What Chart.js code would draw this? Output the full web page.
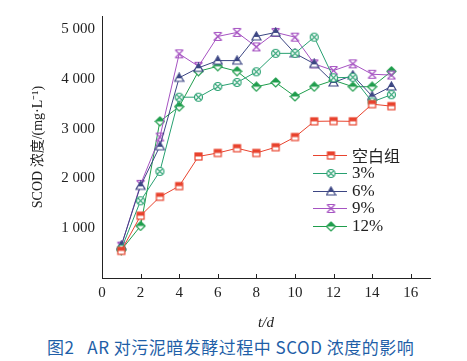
<!DOCTYPE html>
<html>
<head>
<meta charset="utf-8">
<script src="https://cdn.jsdelivr.net/npm/chart.js@4.4.0/dist/chart.umd.min.js"></script>
<style>
  body { margin: 0; background: #fff; }
  #wrap { position: relative; width: 467px; height: 336px; }
  #cap { height: 25px; font-family: "Noto Sans CJK SC", sans-serif; font-size: 17px; letter-spacing: 0.5px; color: #1f5fa8; padding-left: 47px; line-height: 22px; white-space: pre; }
</style>
</head>
<body>
<div id="wrap"><canvas id="my-chart" width="467" height="336"></canvas></div>
<div id="cap">图2   AR 对污泥暗发酵过程中 SCOD 浓度的影响</div>
<script>
// data
let days = [1, 2, 3, 4, 5, 6, 7, 8, 9, 10, 11, 12, 13, 14, 15];
let blank = [545, 1250, 1630, 1845, 2440, 2510, 2605, 2510, 2625, 2830, 3145, 3150, 3145, 3490, 3450];
let p3 = [580, 1550, 2140, 3630, 3630, 3845, 3925, 4140, 4510, 4510, 4835, 4020, 4030, 3535, 3680];
let p6 = [650, 1850, 2645, 4020, 4220, 4365, 4365, 4850, 4930, 4510, 4300, 3925, 4070, 3650, 3845];
let p9 = [640, 1880, 2830, 4500, 4250, 4850, 4930, 4640, 4930, 4835, 4300, 4165, 4300, 4090, 4075];
let p12 = [560, 1045, 3145, 3440, 4150, 4250, 4150, 3840, 3925, 3645, 3840, 3970, 3840, 3840, 4150];
let names = ['空白组', '3%', '6%', '9%', '12%'];
let xTicks = [0, 2, 4, 6, 8, 10, 12, 14, 16];
let yTicks = [1000, 2000, 3000, 4000, 5000];

const colors = ['#e8432e', '#27a070', '#3c4683', '#a653c2', '#1f9d4c'];
const kinds = ['sq', 'cx', 'tri', 'xx', 'dia'];
const serif = '"Liberation Serif", "Times New Roman", serif';

function marker(kind, color) {
    const c = document.createElement('canvas');
    c.width = 11; c.height = 11;
    const g = c.getContext('2d');
    g.strokeStyle = color;
    g.fillStyle = color;
    g.lineWidth = 1.2;
    const m = 5.5;
    if (kind == 'sq') {
        g.fillStyle = '#fff';
        g.fillRect(m - 3.5, m - 3.5, 7, 7);
        g.fillStyle = color;
        g.fillRect(m - 3.5, m - 3.5, 7, 3.5);
        g.strokeRect(m - 3.5, m - 3.5, 7, 7);
    } else if (kind == 'cx') {
        g.fillStyle = '#fff';
        g.beginPath(); g.arc(m, m, 4, 0, Math.PI * 2); g.fill(); g.stroke();
        g.beginPath();
        g.moveTo(m - 2.6, m - 2.6); g.lineTo(m + 2.6, m + 2.6);
        g.moveTo(m + 2.6, m - 2.6); g.lineTo(m - 2.6, m + 2.6);
        g.stroke();
    } else if (kind == 'tri') {
        g.fillStyle = '#fff';
        g.beginPath(); g.moveTo(m, m - 4.5); g.lineTo(m + 4.5, m + 3.5); g.lineTo(m - 4.5, m + 3.5); g.closePath();
        g.fill(); g.stroke();
        g.fillStyle = color;
        g.beginPath(); g.moveTo(m, m - 4.5); g.lineTo(m + 2.8, m + 0.5); g.lineTo(m - 2.8, m + 0.5); g.closePath();
        g.fill();
    } else if (kind == 'xx') {
        g.beginPath();
        g.moveTo(m - 4, m - 4); g.lineTo(m + 4, m - 4);
        g.moveTo(m - 4, m + 4); g.lineTo(m + 4, m + 4);
        g.moveTo(m - 4, m - 4); g.lineTo(m + 4, m + 4);
        g.moveTo(m + 4, m - 4); g.lineTo(m - 4, m + 4);
        g.stroke();
    } else {
        g.fillStyle = '#fff';
        g.beginPath(); g.moveTo(m, m - 4.5); g.lineTo(m + 4.5, m); g.lineTo(m, m + 4.5); g.lineTo(m - 4.5, m); g.closePath();
        g.fill(); g.stroke();
        g.fillStyle = color;
        g.beginPath(); g.moveTo(m, m - 4.5); g.lineTo(m + 4.5, m); g.lineTo(m - 4.5, m); g.closePath();
        g.fill();
    }
    return c;
}

const series = [blank, p3, p6, p9, p12];
const markers = kinds.map((k, i) => marker(k, colors[i]));

const datasets = series.map((s, i) => ({
    label: names[i],
    data: s.map((v, j) => ({ x: days[j], y: v })),
    borderColor: colors[i],
    borderWidth: 1,
    pointStyle: markers[i],
    pointRadius: 5,
    tension: 0
}));

function fmt(v) {
    return Math.floor(v / 1000) + ' 000';
}

// legend drawn inside the plot + inward ticks on x axis
const extras = {
    id: 'extras',
    afterDraw(chart) {
        const c = chart.ctx;
        const xs = chart.scales.x;
        const ys = chart.scales.y;
        c.save();
        c.strokeStyle = '#222';
        c.lineWidth = 1;
        xTicks.forEach(t => {
            if (t == 0) return;
            const px = Math.round(xs.getPixelForValue(t)) + 0.5;
            c.beginPath(); c.moveTo(px, ys.bottom); c.lineTo(px, ys.bottom - 4); c.stroke();
        });
        const ly = [155, 173, 191, 208, 226];
        names.forEach((n, i) => {
            c.strokeStyle = colors[i];
            c.beginPath(); c.moveTo(313, ly[i] + 0.5); c.lineTo(347, ly[i] + 0.5); c.stroke();
            c.drawImage(markers[i], 331 - 5.5, ly[i] - 5);
            c.fillStyle = '#222';
            c.font = i == 0 ? '16px "Noto Sans CJK SC"' : '17px ' + serif;
            c.textBaseline = 'middle';
            c.fillText(n, 352, ly[i] + 1);
        });
        c.restore();
    }
};

function draw() {
    const ctx = document.getElementById('my-chart').getContext('2d');
    new Chart(ctx, {
        type: 'line',
        data: { datasets: datasets },
        options: {
            responsive: false,
            animation: false,
            layout: { padding: { top: 8, right: 37, left: 30, bottom: 0 } },
            plugins: { legend: { display: false }, tooltip: { enabled: false } },
            scales: {
                x: {
                    type: 'linear',
                    min: 0,
                    max: 17,
                    afterBuildTicks: s => { s.ticks = xTicks.map(v => ({ value: v })); },
                    afterFit: s => { s.height = 58; },
                    grid: { display: false, drawTicks: false },
                    border: { color: '#222', width: 1 },
                    ticks: { color: '#222', padding: 6, font: { family: serif, size: 15 } },
                    title: {
                        display: true, text: 't/d', color: '#222',
                        font: { family: serif, size: 15, style: 'italic' },
                        padding: { top: 8 }
                    }
                },
                y: {
                    min: 0,
                    max: 5260,
                    afterBuildTicks: s => { s.ticks = yTicks.map(v => ({ value: v })); },
                    afterFit: s => { s.width = 72; },
                    grid: { display: false, drawTicks: false },
                    border: { color: '#222', width: 1 },
                    ticks: { color: '#222', padding: 7, font: { family: serif, size: 15 }, callback: v => fmt(v) },
                    title: {
                        display: true, text: 'SCOD 浓度/(mg·L⁻¹)', color: '#222',
                        font: { family: '"Liberation Serif", "Noto Sans CJK SC"', size: 14 },
                        padding: { top: 0, bottom: 0 }
                    }
                }
            }
        },
        plugins: [extras]
    });
}

Promise.all([
    document.fonts.load('15px "Liberation Serif"'),
    document.fonts.load('italic 15px "Liberation Serif"'),
    document.fonts.load('16px "Noto Sans CJK SC"')
]).then(draw, draw);
</script>
</body>
</html>
